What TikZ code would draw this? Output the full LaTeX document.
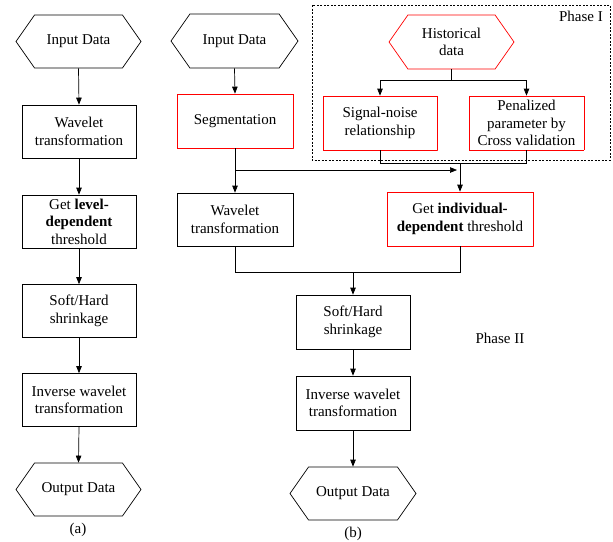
\documentclass[tikz,border=0pt]{standalone}
\usepackage{fontspec}
\setmainfont{Liberation Serif}
\usetikzlibrary{shapes.symbols,arrows.meta}
\begin{document}
\begin{tikzpicture}[x=1pt,y=-1pt,
  every node/.style={font=\fontsize{15}{17.5}\selectfont, align=center, inner sep=1pt},
  box/.style={draw, line width=0.7pt, minimum width=114, minimum height=53},
  redbox/.style={draw=red, line width=0.7pt, dash pattern=on 0.45pt off 0.35pt, minimum width=114, minimum height=54},
  hexa/.style={draw, line width=0.7pt, shape=signal, signal to=west and east, signal pointer angle=110, minimum width=125, minimum height=53},
  arr/.style={line width=0.7pt, -{Triangle[length=7pt,width=5.5pt]}},
  ln/.style={line width=0.7pt}]
\useasboundingbox (0,0) rectangle (613,541);
% Phase I frame
\draw[line width=0.6pt, dash pattern=on 2pt off 1.5pt] (312,5) rectangle (610,160);
\node[anchor=east] (ph1) at (604,16) {Phase I};
\node (ph2) at (500,338) {Phase II};
% column (a)
\node[hexa] (inA) at (78.5,41.5) {Input Data};
\node[box] (wtA) at (79,131.5) {Wavelet\\transformation};
\node[box] (ldA) at (79,221.5) {Get \textbf{level-}\\\textbf{dependent}\\threshold};
\node[box] (shA) at (79,311) {Soft/Hard\\shrinkage};
\node[box] (iwA) at (79,400) {Inverse wavelet\\transformation};
\node[hexa] (outA) at (78.5,489.5) {Output Data};
\node (labA) at (78,530) {(a)};
\draw[arr] (inA.south) -- (wtA.north);
\draw[arr] (wtA.south) -- (ldA.north);
\draw[arr] (ldA.south) -- (shA.north);
\draw[arr] (shA.south) -- (iwA.north);
\draw[arr] (iwA.south) -- (outA.north);
% column (b)
\node[hexa, minimum width=127, minimum height=54] (inB) at (234.5,41) {Input Data};
\node[redbox, minimum width=116] (seg) at (235,121) {Segmentation};
\node[box, minimum width=116] (wtB) at (235,219.5) {Wavelet\\transformation};
\node[redbox, minimum width=146] (idB) at (460,219) {Get \textbf{individual-}\\\textbf{dependent} threshold};
\node[box, minimum height=54] (shB) at (353,322) {Soft/Hard\\shrinkage};
\node[box, minimum height=54] (iwB) at (353,403) {Inverse wavelet\\transformation};
\node[hexa, minimum width=126] (outB) at (353,493.5) {Output Data};
\node (labB) at (353,534) {(b)};
\node[hexa, draw=red, minimum height=54] (hist) at (451.5,42) {Historical\\data};
\node[redbox] (snr) at (380,123) {Signal-noise\\relationship};
\node[redbox, minimum width=115] (pen) at (526.5,123) {Penalized\\parameter by\\Cross validation};
% connectors (b)
\draw[arr] (inB.south) -- (seg.north);
\draw[arr] (seg.south) -- (wtB.north);
\coordinate (j2) at (235,170);
\coordinate (j3) at (457,170);
\draw[arr] (j2) -- (j3);
\draw[arr] (hist.south) -- ++(0,11) -| (snr.north);
\draw[arr] (hist.south) -- ++(0,11) -| (pen.north);
\draw[ln] (snr.south) -- ++(0,13) -| (pen.south);
\coordinate (j1) at (460,163);
\draw[arr] (j1) -- (idB.north);
\draw[ln] (wtB.south) -- ++(0,26) -| (idB.south);
\coordinate (j5) at (353,272);
\draw[arr] (j5) -- (shB.north);
\draw[arr] (shB.south) -- (iwB.north);
\draw[arr] (iwB.south) -- (outB.north);
\end{tikzpicture}
\end{document}
